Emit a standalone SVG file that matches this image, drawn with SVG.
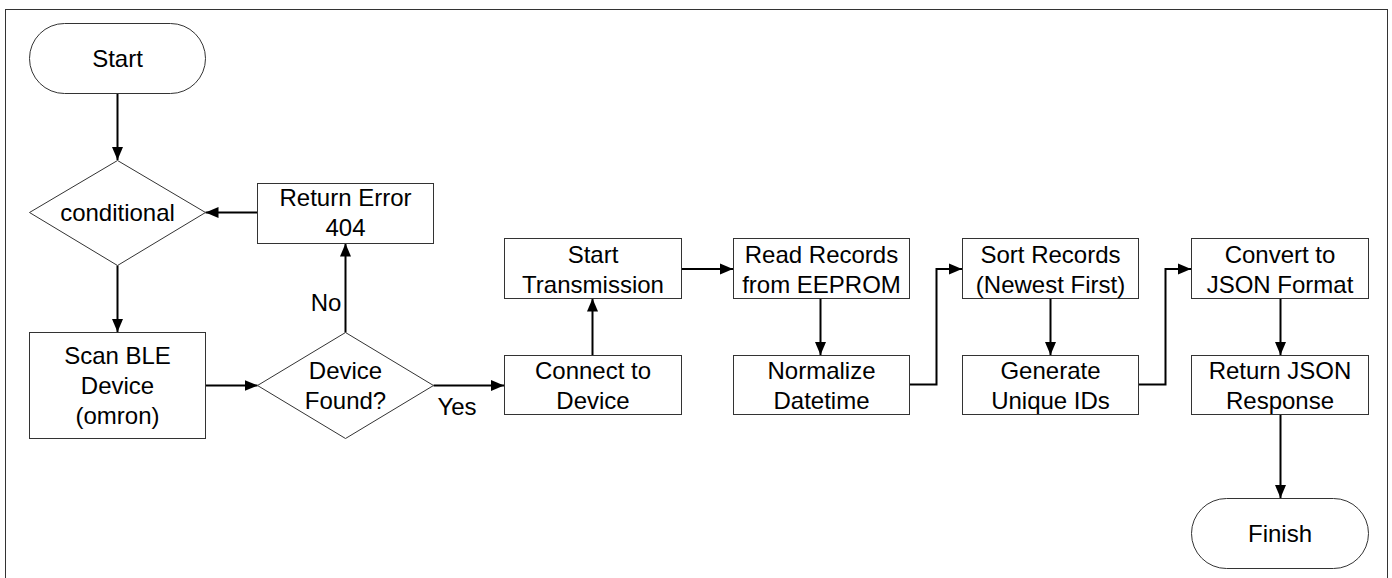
<svg xmlns="http://www.w3.org/2000/svg" width="1392" height="578" viewBox="0 0 1392 578">
<style>
.n{fill:#fff;stroke:#333;stroke-width:1}
.t{font-family:"Liberation Sans",Arial,sans-serif;font-size:24px;fill:#000;text-anchor:middle;dominant-baseline:central}
.c{fill:none;stroke:#000;stroke-width:2}
</style>
<defs>
<marker id="ah" markerUnits="userSpaceOnUse" markerWidth="14" markerHeight="12" refX="13" refY="6" orient="auto">
<path d="M0,0.5 L13,6 L0,11.5 z" fill="#000"/>
</marker>
</defs>
<rect x="5.5" y="9.5" width="1382" height="600" fill="#fff" stroke="#333" stroke-width="1"/>
<g id="connectors">
<path class="c" d="M117.5,93.5 V160" marker-end="url(#ah)"/>
<path class="c" d="M117.5,265.5 V332" marker-end="url(#ah)"/>
<path class="c" d="M205.5,385.5 H257.5" marker-end="url(#ah)"/>
<path class="c" d="M345.5,332.5 V243.5" marker-end="url(#ah)"/>
<path class="c" d="M257.5,212.5 H205.5" marker-end="url(#ah)"/>
<path class="c" d="M433.5,385.5 H504" marker-end="url(#ah)"/>
<path class="c" d="M592.5,355.5 V298.5" marker-end="url(#ah)"/>
<path class="c" d="M681.5,269 H733" marker-end="url(#ah)"/>
<path class="c" d="M820.5,298.5 V355" marker-end="url(#ah)"/>
<path class="c" d="M909.5,384.5 H936.5 V269 H962" marker-end="url(#ah)"/>
<path class="c" d="M1050.5,298.5 V355" marker-end="url(#ah)"/>
<path class="c" d="M1138.5,384.5 H1165.5 V269 H1191" marker-end="url(#ah)"/>
<path class="c" d="M1280.5,298.5 V355" marker-end="url(#ah)"/>
<path class="c" d="M1280.5,414.5 V498" marker-end="url(#ah)"/>
<text class="t" x="326" y="302">No</text>
<text class="t" x="457" y="406">Yes</text>
</g>
<g id="start">
<rect class="n" x="29.5" y="23.5" width="176" height="70" rx="35" ry="35"/>
<text class="t" x="117.5" y="58">Start</text>
</g>
<g id="conditional">
<polygon class="n" points="117.5,160.5 205.5,212.5 117.5,265.5 29.5,212.5"/>
<text class="t" x="117.5" y="212">conditional</text>
</g>
<g id="return-error">
<rect class="n" x="257.5" y="183.5" width="176" height="60"/>
<text class="t" x="345.5" y="197">Return Error</text>
<text class="t" x="345.5" y="227">404</text>
</g>
<g id="scan-ble">
<rect class="n" x="29.5" y="332.5" width="176" height="106"/>
<text class="t" x="117.5" y="355">Scan BLE</text>
<text class="t" x="117.5" y="385">Device</text>
<text class="t" x="117.5" y="415">(omron)</text>
</g>
<g id="device-found">
<polygon class="n" points="345.5,332.5 433.5,385.5 345.5,438.5 257.5,385.5"/>
<text class="t" x="345.5" y="370">Device</text>
<text class="t" x="345.5" y="400">Found?</text>
</g>
<g id="connect">
<rect class="n" x="504.5" y="355.5" width="177" height="59"/>
<text class="t" x="593" y="370">Connect to</text>
<text class="t" x="593" y="400">Device</text>
</g>
<g id="start-transmission">
<rect class="n" x="504.5" y="238.5" width="177" height="60"/>
<text class="t" x="593" y="254">Start</text>
<text class="t" x="593" y="284">Transmission</text>
</g>
<g id="read-records">
<rect class="n" x="733.5" y="238.5" width="176" height="60"/>
<text class="t" x="821.5" y="254">Read Records</text>
<text class="t" x="821.5" y="284">from EEPROM</text>
</g>
<g id="normalize">
<rect class="n" x="733.5" y="355.5" width="176" height="59"/>
<text class="t" x="821.5" y="370">Normalize</text>
<text class="t" x="821.5" y="400">Datetime</text>
</g>
<g id="sort">
<rect class="n" x="962.5" y="238.5" width="176" height="60"/>
<text class="t" x="1050.5" y="254">Sort Records</text>
<text class="t" x="1050.5" y="284">(Newest First)</text>
</g>
<g id="generate">
<rect class="n" x="962.5" y="355.5" width="176" height="59"/>
<text class="t" x="1050.5" y="370">Generate</text>
<text class="t" x="1050.5" y="400">Unique IDs</text>
</g>
<g id="convert">
<rect class="n" x="1191.5" y="238.5" width="177" height="60"/>
<text class="t" x="1280" y="254">Convert to</text>
<text class="t" x="1280" y="284">JSON Format</text>
</g>
<g id="return-json">
<rect class="n" x="1191.5" y="355.5" width="177" height="59"/>
<text class="t" x="1280" y="370">Return JSON</text>
<text class="t" x="1280" y="400">Response</text>
</g>
<g id="finish">
<rect class="n" x="1191.5" y="498.5" width="177" height="70" rx="35" ry="35"/>
<text class="t" x="1280" y="533">Finish</text>
</g>
</svg>
